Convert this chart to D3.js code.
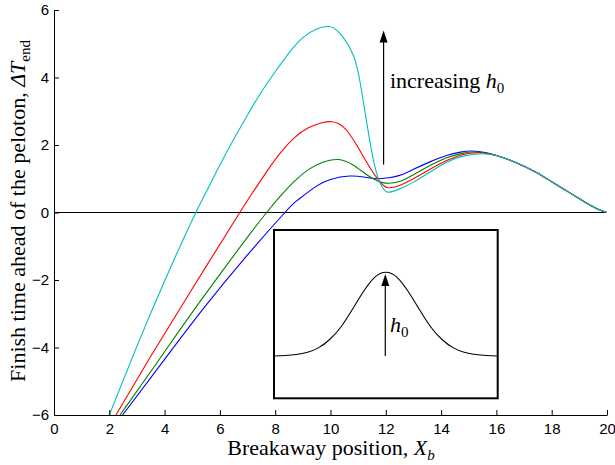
<!DOCTYPE html>
<html><head><meta charset="utf-8">
<script src="https://cdn.jsdelivr.net/npm/d3@7"></script>
<style>body{margin:0;background:#fff}</style>
</head><body><div id="chart"></div>
<script>
// ---- data ----
const xTicks = [0, 2, 4, 6, 8, 10, 12, 14, 16, 18, 20];
const yTicks = [-6, -4, -2, 0, 2, 4, 6];
const xDomain = [0, 20];
const yDomain = [-6, 6];

const blueXY = [[2.48,-6],[4.0,-4.35],[5.4,-2.85],[6.9,-1.35],[8.35,0],[8.8,0.36],[9.4,0.73],[10.0,0.98],[10.7,1.08],[11.2,1.05],[11.67,1.0],[12.1,1.03],[12.5,1.10],[13.0,1.28],[13.6,1.50],[14.2,1.69],[14.7,1.79],[15.1,1.82],[15.6,1.78]];
const greenXY = [[2.39,-6],[3.7,-4.48],[5.0,-2.96],[6.3,-1.50],[7.0,-0.73],[7.69,0],[8.2,0.50],[8.7,0.93],[9.2,1.27],[9.7,1.48],[10.28,1.57],[10.83,1.40],[11.31,1.12],[11.67,0.95],[12.0,0.87],[12.5,0.92],[13.0,1.12],[13.6,1.39],[14.2,1.62],[14.8,1.76],[15.23,1.79],[15.6,1.76]];
const redXY = [[2.24,-6],[3.5,-4.26],[5.0,-2.26],[6.72,0],[7.2,0.61],[7.7,1.22],[8.2,1.78],[8.7,2.22],[9.2,2.51],[9.7,2.66],[10.05,2.69],[10.3,2.63],[10.59,2.43],[10.95,1.99],[11.31,1.49],[11.61,1.10],[11.8,0.90],[12.05,0.74],[12.5,0.80],[13.0,1.0],[13.6,1.28],[14.2,1.54],[14.8,1.72],[15.35,1.77],[15.7,1.74]];
const cyanXY = [[2.0,-6.0],[3.0,-3.96],[4.0,-2.03],[5.0,-0.22],[5.5,0.60],[6.0,1.41],[6.5,2.17],[7.0,2.89],[7.5,3.57],[8.0,4.17],[8.5,4.73],[9.0,5.18],[9.5,5.44],[9.95,5.51],[10.2,5.42],[10.46,5.19],[10.83,4.65],[11.07,3.86],[11.25,2.97],[11.43,2.08],[11.57,1.49],[11.73,1.0],[11.9,0.72],[12.1,0.60],[12.5,0.70],[13.0,0.90],[13.6,1.20],[14.2,1.49],[14.8,1.67],[15.47,1.74]];
const tailXY = [[16.0,1.69],[16.5,1.55],[17.0,1.37],[17.5,1.16],[18.0,0.91],[18.5,0.66],[19.0,0.41],[19.5,0.17],[19.75,0.07],[20.0,0]];

const seriesOrder = ["blue", "green", "red", "cyan"];
const seriesColor = {blue: "#0000ff", green: "#008000", red: "#ff0000", cyan: "#00bfbf"};
const seriesData = {blue: blueXY, green: greenXY, red: redXY, cyan: cyanXY};

// inset hill profile (schematic)
const hillX = [-1, -0.9, -0.8, -0.7, -0.6, -0.5, -0.4, -0.3, -0.2, -0.1, 0, 0.1, 0.2, 0.3, 0.4, 0.5, 0.6, 0.7, 0.8, 0.9, 1];
const hillY = [0, 0.006, 0.018, 0.045, 0.1, 0.2, 0.35, 0.555, 0.77, 0.94, 1, 0.94, 0.77, 0.555, 0.35, 0.2, 0.1, 0.045, 0.018, 0.006, 0];

// annotation anchors (data coordinates)
const mainArrow = {x: 11.92, y0: 1.42, y1: 5.39};
const mainLabel = {x: 12.15, y: 3.70};

// ---- chart ----
const W = 615, H = 465;
const svg = d3.select("#chart").append("svg").attr("width", W).attr("height", H)
  .style("font-family", "'Liberation Sans', Arial, sans-serif");

const x = d3.scaleLinear().domain(xDomain).range([54, 607]);
const y = d3.scaleLinear().domain(yDomain).range([415, 10]);

svg.append("defs").append("clipPath").attr("id", "clip")
  .append("rect").attr("x", 54).attr("y", 10).attr("width", 553).attr("height", 405);

// zero line
svg.append("line").attr("x1", x(0)).attr("x2", x(20)).attr("y1", y(0)).attr("y2", y(0))
  .attr("stroke", "#000").attr("stroke-width", 1);

const line = d3.line().x(d => x(d[0])).y(d => y(d[1])).curve(d3.curveNatural);
const g = svg.append("g").attr("clip-path", "url(#clip)");
seriesOrder.forEach(k => {
  g.append("path").datum(seriesData[k].concat(tailXY))
    .attr("d", line).attr("fill", "none").attr("stroke", seriesColor[k]).attr("stroke-width", 1.1);
});

// axes
const xAxis = svg.append("g").attr("transform", `translate(0,${y(-6)})`)
  .call(d3.axisBottom(x).tickValues(xTicks).tickSize(-5).tickSizeOuter(0).tickPadding(8)
    .tickFormat(d => d3.format("d")(d)));
const yAxis = svg.append("g").attr("transform", `translate(${x(0)},0)`)
  .call(d3.axisLeft(y).tickValues(yTicks).tickSize(-5).tickSizeOuter(0).tickPadding(5)
    .tickFormat(d => (d < 0 ? "\u2212" + Math.abs(d) : String(d))));
[xAxis, yAxis].forEach(a => {
  a.selectAll("path, line").attr("stroke", "#000").attr("stroke-width", 1);
  a.selectAll("text").attr("fill", "#000").style("font-size", "15px")
    .style("font-family", "'Liberation Sans', Arial, sans-serif");
});

// axis labels
const serif = "'Liberation Serif', 'Times New Roman', serif";
const xl = svg.append("text").attr("x", 331).attr("y", 455).attr("text-anchor", "middle")
  .style("font-family", serif).style("font-size", "22px");
xl.append("tspan").text("Breakaway position, ");
xl.append("tspan").attr("font-style", "italic").text("X");
xl.append("tspan").attr("font-style", "italic").attr("font-size", "15px").attr("dy", 5).text("b");

const yl = svg.append("text").attr("transform", "translate(25,211) rotate(-90)").attr("text-anchor", "middle")
  .style("font-family", serif).style("font-size", "22px");
yl.append("tspan").text("Finish time ahead of the peloton, ");
yl.append("tspan").attr("font-style", "italic").text("\u0394T");
yl.append("tspan").attr("font-size", "15px").attr("dy", 5).text("end");

// main arrow + label
function arrow(sel, x0, y0, x1, y1) {
  sel.append("line").attr("x1", x0).attr("y1", y0).attr("x2", x1).attr("y2", y1 + 8)
    .attr("stroke", "#000").attr("stroke-width", 1.2);
  sel.append("path").attr("d", `M${x1},${y1} L${x1 - 4},${y1 + 12} L${x1 + 4},${y1 + 12} Z`).attr("fill", "#000");
}
arrow(svg, x(mainArrow.x), y(mainArrow.y0), x(mainArrow.x), y(mainArrow.y1));
const ml = svg.append("text").attr("x", x(mainLabel.x)).attr("y", y(mainLabel.y))
  .style("font-family", serif).style("font-size", "22px");
ml.append("tspan").text("increasing ");
ml.append("tspan").attr("font-style", "italic").text("h");
ml.append("tspan").attr("font-size", "15px").attr("dy", 5).text("0");

// inset
const ix = d3.scaleLinear().domain([-1, 1]).range([274, 497.7]);
const iy = d3.scaleLinear().domain([0, 1]).range([356, 272.3]);
svg.append("rect").attr("x", 274).attr("y", 230).attr("width", 223.7).attr("height", 168.3)
  .attr("fill", "#fff").attr("stroke", "#000").attr("stroke-width", 2);
const hill = d3.line().x((d, i) => ix(hillX[i])).y((d, i) => iy(hillY[i])).curve(d3.curveNatural);
svg.append("path").datum(hillX).attr("d", hill).attr("fill", "none").attr("stroke", "#000").attr("stroke-width", 1.1);
arrow(svg, ix(-0.005), iy(0), ix(-0.005), iy(0.98));
const hl = svg.append("text").attr("x", ix(0.037)).attr("y", iy(0.29))
  .style("font-family", serif).style("font-size", "22px");
hl.append("tspan").attr("font-style", "italic").text("h");
hl.append("tspan").attr("font-size", "15px").attr("dy", 5).text("0");
</script>
</body></html>
